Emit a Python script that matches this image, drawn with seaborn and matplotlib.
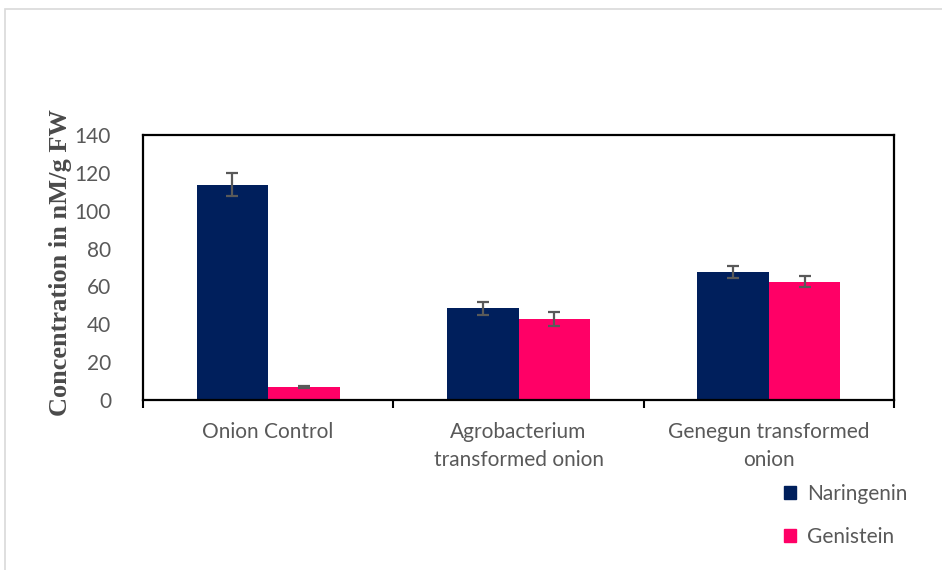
import pandas as pd
import numpy as np
import matplotlib.pyplot as plt
import seaborn as sns
from matplotlib.patches import Rectangle

# --- data ---
groups = ['Onion Control', 'Agrobacterium\ntransformed onion', 'Genegun transformed\nonion']
compounds = ['Naringenin', 'Genistein']
naringenin = [113.8, 48.5, 67.7]
naringenin_err = [6.0, 3.5, 3.3]
genistein = [6.7, 42.7, 62.6]
genistein_err = [0.5, 3.6, 3.0]

df = pd.DataFrame({
    'Group': groups * 2,
    'Compound': [compounds[0]] * 3 + [compounds[1]] * 3,
    'Value': naringenin + genistein,
    'Err': naringenin_err + genistein_err,
})

colors = {'Naringenin': '#001F5C', 'Genistein': '#FF0066'}
grey = '#595959'

sns.set_theme(style="white")
plt.rcParams['font.family'] = ['Lato', 'DejaVu Sans']

fig = plt.figure(figsize=(9.42, 5.70), dpi=100)
ax = fig.add_axes([143 / 942, 1 - 400 / 570, (894 - 143) / 942, (400 - 135) / 570])

sns.barplot(data=df, x='Group', y='Value', hue='Compound', order=groups,
            hue_order=compounds, palette=colors, width=0.57, saturation=1,
            errorbar=None, linewidth=0, ax=ax, legend=False)

# error bars on the bar centres
for cont, comp in zip(ax.containers, compounds):
    sub = df[df['Compound'] == comp].set_index('Group').loc[groups]
    xs = [p.get_x() + p.get_width() / 2 for p in cont.patches]
    ax.errorbar(xs, sub['Value'], yerr=sub['Err'], fmt='none',
                ecolor=grey, elinewidth=1.6, capsize=4.5, capthick=1.6, zorder=5)

ax.set_xlim(-0.5, 2.5)
ax.set_ylim(0, 140)
ax.set_yticks(range(0, 141, 20))

# Excel style ticks between the categories
ax.set_xticks([-0.5, 0.5, 1.5, 2.5], minor=True)
ax.tick_params(axis='x', which='major', length=0, pad=16, labelsize=15, labelcolor=grey)
for lbl in ax.get_xticklabels():
    lbl.set_linespacing(1.5)
ax.tick_params(axis='x', which='minor', length=6, width=1.5, direction='out',
               color='black', bottom=True)
ax.tick_params(axis='y', length=0, pad=23, labelsize=15, labelcolor=grey)

for spine in ax.spines.values():
    spine.set_visible(True)
    spine.set_edgecolor('black')
    spine.set_linewidth(1.6)

ax.set_xlabel('')
ax.set_ylabel('Concentration in nM/g FW', family=['Liberation Serif'],
              fontweight='bold', fontsize=19, color='#4a4a4a')
ax.yaxis.set_label_coords(-0.0945, 0.519)

# legend below right of the plot
handles = [Rectangle((0, 0), 1, 1, color=colors[c]) for c in compounds]
fig.legend(handles, compounds, loc='upper left', bbox_to_anchor=(765 / 942, 1 - 465 / 570),
           frameon=False, fontsize=15, labelcolor=grey, handlelength=0.6,
           handleheight=0.6, handletextpad=0.5, labelspacing=1.1)

# light frame around the whole chart
fig.patches.append(Rectangle((5 / 942, -0.05), 1.0, 1 - 9 / 570 + 0.05,
                             transform=fig.transFigure, fill=False,
                             edgecolor='#D9D9D9', linewidth=1.2))

fig.savefig('out.png', dpi=100)
